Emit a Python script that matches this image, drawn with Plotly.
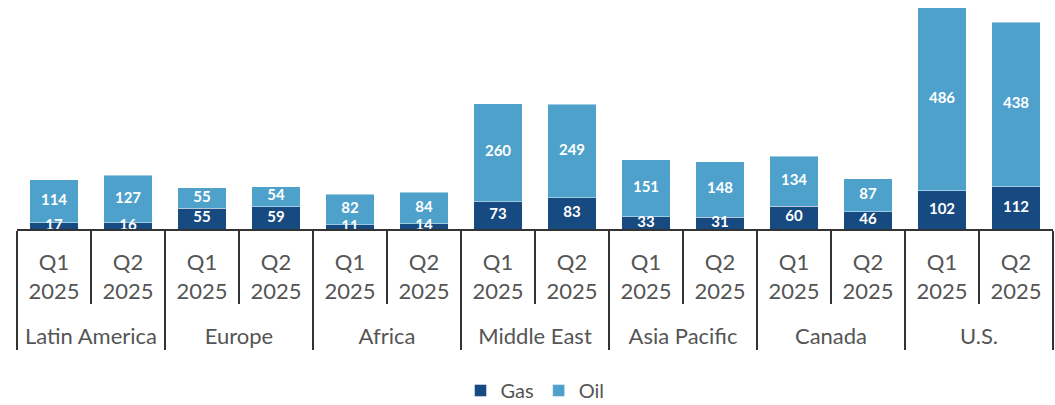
import plotly.graph_objects as go

regions = ["Latin America", "Europe", "Africa", "Middle East", "Asia Pacific", "Canada", "U.S."]
quarters = ["Q1<br>2025", "Q2<br>2025"]
gas = [17, 16, 55, 59, 11, 14, 73, 83, 33, 31, 60, 46, 102, 112]
oil = [114, 127, 55, 54, 82, 84, 260, 249, 151, 148, 134, 87, 486, 438]

lvl0 = ["<br>" + r for r in regions for _ in quarters]
lvl1 = [q for _ in regions for q in quarters]
x = [lvl0, lvl1]

GAS_C = "#174a80"
OIL_C = "#4ea1cb"

fig = go.Figure()
fig.add_trace(go.Bar(x=x, y=gas, name="Gas", marker=dict(color=GAS_C, line=dict(color="rgba(255,255,255,0.45)", width=1))))
fig.add_trace(go.Bar(x=x, y=oil, name="Oil", marker=dict(color=OIL_C, line=dict(color="rgba(255,255,255,0.45)", width=1))))

fig.add_trace(go.Scatter(x=x, y=[g / 2 for g in gas], mode="text", text=[str(g) for g in gas],
                         textfont=dict(color="white", size=15, family="Lato", weight="bold"),
                         showlegend=False, hoverinfo="skip", cliponaxis=True))
fig.add_trace(go.Scatter(x=x, y=[g + o / 2 for g, o in zip(gas, oil)], mode="text", text=[str(o) for o in oil],
                         textfont=dict(color="white", size=15, family="Lato", weight="bold"),
                         showlegend=False, hoverinfo="skip", cliponaxis=True))

fig.update_layout(
    barmode="stack",
    bargap=0.34,
    width=1055, height=405,
    margin=dict(l=17, r=2, t=0, b=176, autoexpand=False),
    plot_bgcolor="white", paper_bgcolor="white",
    font=dict(family="Lato", color="#555555"),
    legend=dict(orientation="h", x=0.5, xanchor="center", y=-0.705, yanchor="middle",
                font=dict(size=20, color="#555555"), itemwidth=30, traceorder="normal"),
    showlegend=True,
)
fig.update_xaxes(
    type="multicategory",
    range=[-0.5, 13.5],
    automargin=False,
    showline=True, linecolor="#333333", linewidth=2,
    ticks="outside", tickson="boundaries", ticklen=73, tickcolor="#333333", tickwidth=2,
    ticklabelstandoff=13,
    dividercolor="#333333", dividerwidth=2,
    tickfont=dict(size=22, color="#555555", family="Lato"),
    showgrid=False,
)
fig.update_yaxes(range=[0, 609], visible=False, showgrid=False, automargin=False)

fig.write_html("out.html")
